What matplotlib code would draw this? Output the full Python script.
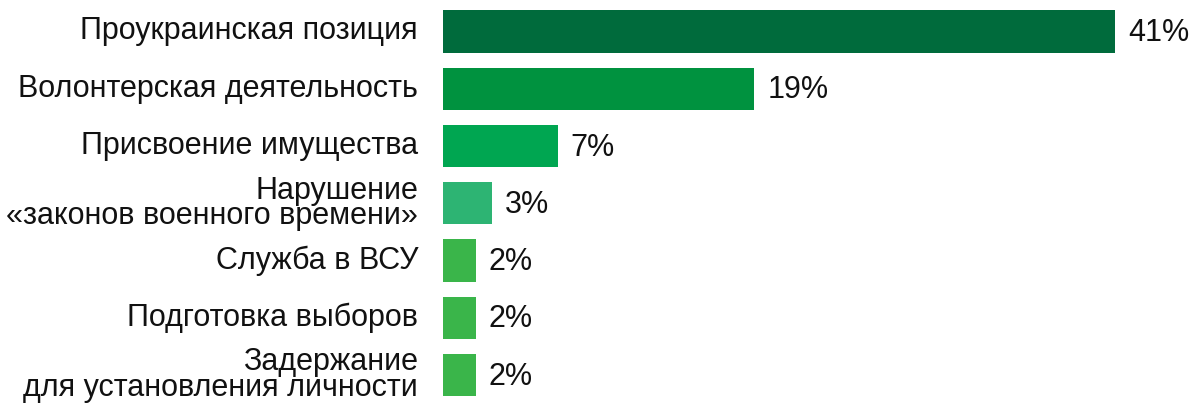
import matplotlib
matplotlib.use("Agg")
import matplotlib.pyplot as plt

categories = [
    "Проукраинская позиция",
    "Волонтерская деятельность",
    "Присвоение имущества",
    "Нарушение\n«законов военного времени»",
    "Служба в ВСУ",
    "Подготовка выборов",
    "Задержание\nдля установления личности",
]
values = [41, 19, 7, 3, 2, 2, 2]
colors = ["#006B3C", "#00923F", "#00A651", "#2DB473", "#3AB54A", "#3AB54A", "#3AB54A"]

plt.rcParams['font.family'] = ['Liberation Sans', 'DejaVu Sans']

W, H = 1191, 405
fig = plt.figure(figsize=(W / 100, H / 100), dpi=100)
ax = fig.add_axes([443 / W, 0, 1 - 443 / W, 1])
pos = list(range(len(categories)))
ax.barh(pos, values, height=0.74, color=colors)
px_per = (1115 - 443) / 41
ax.set_xlim(0, (W - 443) / px_per)
ax.set_ylim((H - 31.5) / 57.25, -31.5 / 57.25)
ax.axis("off")
for i, (c, v) in enumerate(zip(categories, values)):
    ax.text(v + 13 / px_per, i + 0.03, f"{v}%", va="center", ha="left", fontsize=22, color="#111111")
    ax.text(-25 / px_per, i, c, va="center", ha="right", fontsize=22, color="#111111", linespacing=0.8)
fig.savefig("out.png", dpi=100)
